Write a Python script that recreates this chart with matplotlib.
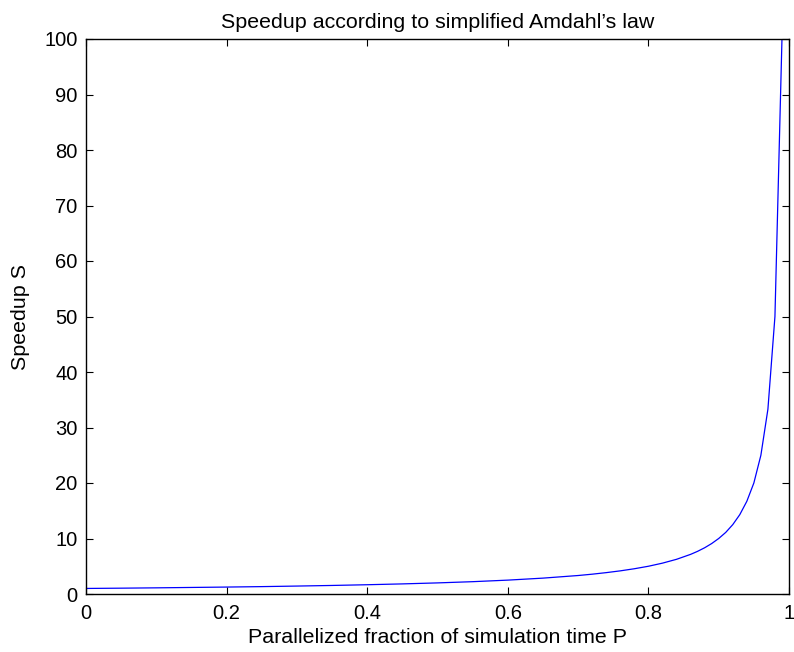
import matplotlib
matplotlib.use('Agg')
import matplotlib.pyplot as plt

# parallel fraction P and speedup S
p_vals = [0.0, 0.05, 0.1, 0.15, 0.2, 0.25, 0.3, 0.35, 0.4, 0.45, 0.5, 0.55,
          0.6, 0.65, 0.7, 0.72, 0.74, 0.76, 0.78, 0.8, 0.82, 0.84, 0.86,
          0.87, 0.88, 0.89, 0.9, 0.91, 0.92, 0.93, 0.94, 0.95, 0.96, 0.97,
          0.98, 0.99]
s_vals = [1.0, 1.05, 1.11, 1.18, 1.25, 1.33, 1.43, 1.54, 1.67, 1.82, 2.0, 2.22,
          2.5, 2.86, 3.33, 3.57, 3.85, 4.17, 4.55, 5.0, 5.56, 6.25, 7.14,
          7.69, 8.33, 9.09, 10.0, 11.1, 12.5, 14.3, 16.7, 20.0, 25.0, 33.3,
          50.0, 100.0]

xticks = [0, 0.2, 0.4, 0.6, 0.8, 1]
xticklabels = ['0', '0.2', '0.4', '0.6', '0.8', '1']
yticks = list(range(0, 101, 10))

plt.rcParams['font.family'] = ['Liberation Sans', 'DejaVu Sans']

fig = plt.figure(figsize=(7.94, 6.52), dpi=100)
ax = fig.add_axes([86 / 794, 1 - 594 / 652, (789 - 86) / 794, (594 - 39) / 652])

ax.plot(p_vals, s_vals, color='#0000ff', linewidth=0.9)

ax.set_xlim(0, 1)
ax.set_ylim(0, 100)
ax.set_xticks(xticks)
ax.set_xticklabels(xticklabels)
ax.set_yticks(yticks)
ax.tick_params(direction='in', top=True, right=True, labelsize=14.5,
               length=5, width=0.8)
ax.tick_params(axis='x', pad=7)
ax.tick_params(axis='y', pad=6)
for sp in ax.spines.values():
    sp.set_linewidth(1.0)

ax.set_title("Speedup according to simplified Amdahl\u2019s law", fontsize=15.4, pad=8)
ax.set_xlabel('Parallelized fraction of simulation time P', fontsize=15.4, labelpad=4)
ax.set_ylabel('Speedup S', fontsize=15.4, labelpad=10)

fig.savefig('out.png', dpi=100)
